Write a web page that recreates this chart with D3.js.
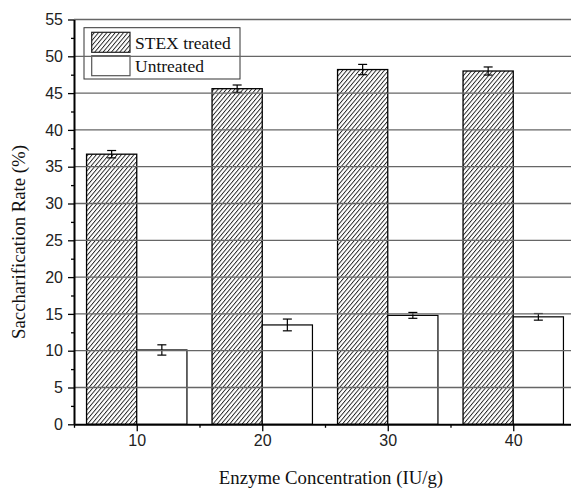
<!DOCTYPE html>
<html>
<head>
<meta charset="utf-8">
<script src="https://cdn.jsdelivr.net/npm/d3@7"></script>
<style>
  html, body { margin: 0; padding: 0; background: #fff; }
  svg { display: block; }
</style>
</head>
<body>
<div id="chart"></div>
<script>
// Data
const concentrations = [10, 20, 30, 40];
const stexValues = [36.7, 45.6, 48.2, 48.0];
const stexErrors = [0.5, 0.5, 0.7, 0.55];
const untreatedValues = [10.1, 13.5, 14.8, 14.6];
const untreatedErrors = [0.7, 0.8, 0.4, 0.45];
const yMajorTicks = [0, 5, 10, 15, 20, 25, 30, 35, 40, 45, 50, 55];
const xMajorTicks = [10, 20, 30, 40];
const seriesNames = ['STEX treated', 'Untreated'];

// Layout
const W = 571, H = 489;
const BAR_UNITS = 4;
const SANS = '"Liberation Sans", Arial, sans-serif';
const SERIF = '"Liberation Serif", "Times New Roman", serif';

const svg = d3.select('#chart').append('svg')
  .attr('width', W)
  .attr('height', H);

svg.append('rect').attr('width', W).attr('height', H).attr('fill', '#fff');

// hatch pattern for the treated bars
const defs = svg.append('defs');
defs.append('pattern')
  .attr('id', 'hatch')
  .attr('patternUnits', 'userSpaceOnUse')
  .attr('width', 3.2)
  .attr('height', 3.2)
  .attr('patternTransform', 'rotate(40)')
  .append('line')
  .attr('x1', 0.5).attr('y1', 0)
  .attr('x2', 0.5).attr('y2', 3.2)
  .attr('stroke', '#000')
  .attr('stroke-width', 0.8);

const x = d3.scaleLinear().domain([5, 45]).range([74, 576]);
const y = d3.scaleLinear().domain([0, 55]).range([424.3, 19.5]);

const bars = concentrations.map((c, i) => ({
  c,
  stex: stexValues[i], stexErr: stexErrors[i],
  un: untreatedValues[i], unErr: untreatedErrors[i]
}));

// treated bars (left of tick)
svg.selectAll('.bar-stex')
  .data(bars)
  .enter()
  .append('rect')
  .attr('class', 'bar-stex')
  .attr('x', d => x(d.c - BAR_UNITS))
  .attr('y', d => y(d.stex))
  .attr('width', d => x(d.c) - x(d.c - BAR_UNITS))
  .attr('height', d => y(0) - y(d.stex))
  .attr('fill', 'url(#hatch)')
  .attr('stroke', '#000')
  .attr('stroke-width', 1.3);

// untreated bars (right of tick)
svg.selectAll('.bar-un')
  .data(bars)
  .enter()
  .append('rect')
  .attr('class', 'bar-un')
  .attr('x', d => x(d.c))
  .attr('y', d => y(d.un))
  .attr('width', d => x(d.c + BAR_UNITS) - x(d.c))
  .attr('height', d => y(0) - y(d.un))
  .attr('fill', '#fff')
  .attr('stroke', '#000')
  .attr('stroke-width', 1.2);

// error bars
function errorBar(cx, v, e) {
  const g = svg.append('g').attr('stroke', '#000').attr('stroke-width', 1.2);
  g.append('line').attr('x1', cx).attr('x2', cx).attr('y1', y(v + e)).attr('y2', y(v - e));
  g.append('line').attr('x1', cx - 4.5).attr('x2', cx + 4.5).attr('y1', y(v + e)).attr('y2', y(v + e));
  g.append('line').attr('x1', cx - 4.5).attr('x2', cx + 4.5).attr('y1', y(v - e)).attr('y2', y(v - e));
}
bars.forEach(d => {
  errorBar(x(d.c - BAR_UNITS / 2), d.stex, d.stexErr);
  errorBar(x(d.c + BAR_UNITS / 2), d.un, d.unErr);
});

// legend
const legend = svg.append('g');
legend.append('rect')
  .attr('x', 84).attr('y', 27.7)
  .attr('width', 156).attr('height', 51.3)
  .attr('fill', '#fff')
  .attr('stroke', '#333')
  .attr('stroke-width', 1);
legend.append('rect')
  .attr('x', 91.7).attr('y', 32.3).attr('width', 38.3).attr('height', 20)
  .attr('fill', 'url(#hatch)').attr('stroke', '#222').attr('stroke-width', 1.2);
legend.append('rect')
  .attr('x', 91.7).attr('y', 55.7).attr('width', 38.3).attr('height', 20)
  .attr('fill', '#fff').attr('stroke', '#555').attr('stroke-width', 1.2);
legend.selectAll('.legend-label')
  .data(seriesNames)
  .enter()
  .append('text')
  .attr('class', 'legend-label')
  .attr('x', 135)
  .attr('y', (d, i) => 48.5 + i * 23)
  .style('font-family', SERIF)
  .style('font-size', '17.5px')
  .style('fill', '#111')
  .text(d => d);

// gridlines on top of the bars
svg.append('g')
  .selectAll('line')
  .data(yMajorTicks.filter(t => t > 0))
  .enter()
  .append('line')
  .attr('x1', x(5)).attr('x2', W)
  .attr('y1', d => y(d)).attr('y2', d => y(d))
  .attr('stroke', '#666')
  .attr('stroke-width', 1.3);

function styleTickText(g) {
  g.selectAll('.tick text')
    .style('font-family', SANS)
    .style('font-size', '16px')
    .style('fill', '#222');
}

// y axis
const yMinor = d3.range(2.5, 55, 5);
const yAxis = svg.append('g')
  .attr('transform', `translate(${x(5)},0)`);
yAxis.append('g')
  .call(d3.axisLeft(y).tickValues(yMajorTicks).tickSize(6).tickSizeOuter(0).tickFormat(d3.format('d')))
  .call(g => g.select('.domain').attr('stroke', '#000').attr('stroke-width', 2))
  .call(g => g.selectAll('.tick line').attr('stroke', '#000').attr('stroke-width', 1.3))
  .call(g => g.selectAll('.tick text').attr('x', -11))
  .call(styleTickText);
yAxis.append('g')
  .call(d3.axisLeft(y).tickValues(yMinor).tickSize(3).tickFormat(''))
  .call(g => g.select('.domain').remove())
  .call(g => g.selectAll('.tick line').attr('stroke', '#000').attr('stroke-width', 1.3));

// x axis
const xMinor = [5, 15, 25, 35, 45];
const xAxis = svg.append('g')
  .attr('transform', `translate(0,${y(0)})`);
xAxis.append('g')
  .call(d3.axisBottom(x).tickValues(xMajorTicks).tickSize(7).tickSizeOuter(0).tickFormat(d3.format('d')))
  .call(g => g.select('.domain').attr('stroke', '#000').attr('stroke-width', 2))
  .call(g => g.selectAll('.tick line').attr('stroke', '#000').attr('stroke-width', 1.3))
  .call(g => g.selectAll('.tick text').attr('y', 10).attr('dy', '0.71em'))
  .call(styleTickText);
xAxis.append('g')
  .call(d3.axisBottom(x).tickValues(xMinor).tickSize(3.5).tickFormat(''))
  .call(g => g.select('.domain').remove())
  .call(g => g.selectAll('.tick line').attr('stroke', '#000').attr('stroke-width', 1.3));

// axis titles
svg.append('text')
  .attr('x', 331)
  .attr('y', 484)
  .attr('text-anchor', 'middle')
  .style('font-family', SERIF)
  .style('font-size', '18.8px')
  .style('fill', '#111')
  .text('Enzyme Concentration (IU/g)');

svg.append('text')
  .attr('transform', 'rotate(-90)')
  .attr('x', -242)
  .attr('y', 25)
  .attr('text-anchor', 'middle')
  .style('font-family', SERIF)
  .style('font-size', '18.8px')
  .style('fill', '#111')
  .text('Saccharification Rate (%)');
</script>
</body>
</html>
